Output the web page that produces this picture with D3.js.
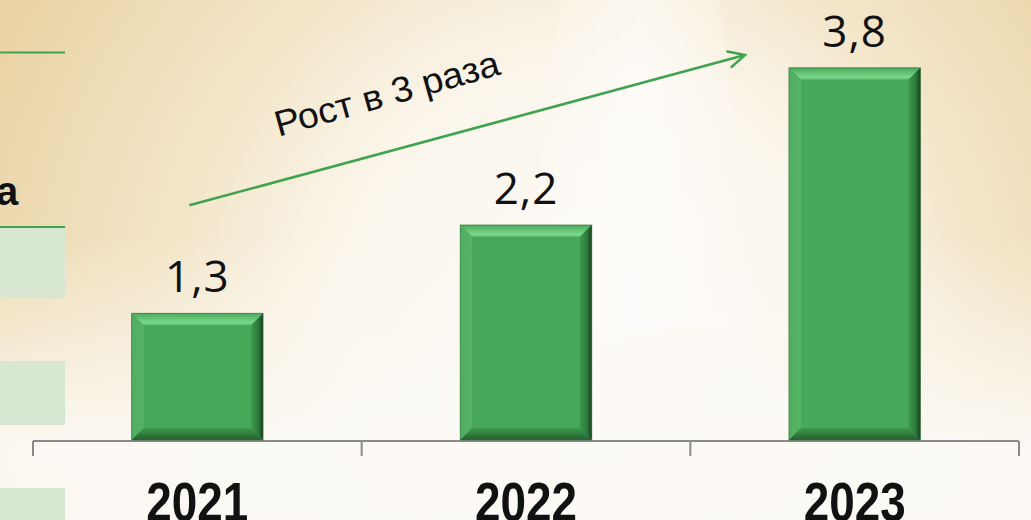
<!DOCTYPE html>
<html>
<head>
<meta charset="utf-8">
<script src="https://cdn.jsdelivr.net/npm/d3@7"></script>
<style>
  html, body { margin: 0; padding: 0; overflow: hidden; }
  body { width: 1031px; height: 520px; }
</style>
</head>
<body>
<div id="chart"></div>
<script>
//Data
const years = ['2021', '2022', '2023'];
const values = [1.3, 2.2, 3.8];
const valueLabels = ['1,3', '2,2', '3,8'];
const growthText = 'Рост в 3 раза';
// arrow anchors in data units (year, value)
const arrowFrom = ['2021', 2.4];
const arrowTo = ['2023', 3.93];

const W = 1031, H = 520;
const margin = { left: 33, right: 12, bottom: 79 };
const axisY = H - margin.bottom; // 441
const green = '#3fa34f';

const svg = d3.select('#chart').append('svg').attr('width', W).attr('height', H);
const defs = svg.append('defs');

//Background
const bg = defs.append('radialGradient').attr('id', 'bg')
  .attr('gradientUnits', 'userSpaceOnUse')
  .attr('cx', 560).attr('cy', 330).attr('r', 700)
  .attr('fx', 600).attr('fy', 300);
[[0, '#fdfbf7'], [0.35, '#fbf6ec'], [0.6, '#f2e4c6'], [1, '#e8cf9c']]
  .forEach(([o, c]) => bg.append('stop').attr('offset', o).attr('stop-color', c));
svg.append('rect').attr('width', W).attr('height', H).attr('fill', 'url(#bg)');

const fade = defs.append('linearGradient').attr('id', 'fade')
  .attr('x1', 0).attr('x2', 0).attr('y1', 0).attr('y2', 1);
fade.append('stop').attr('offset', 0.45).attr('stop-color', '#fcfaf5').attr('stop-opacity', 0);
fade.append('stop').attr('offset', 0.85).attr('stop-color', '#fcfaf6').attr('stop-opacity', 0.95);
svg.append('rect').attr('width', W).attr('height', H).attr('fill', 'url(#fade)');

// soft light ray from top
const ray = defs.append('linearGradient').attr('id', 'ray')
  .attr('x1', 0).attr('x2', 1).attr('y1', 0).attr('y2', 0);
ray.append('stop').attr('offset', 0).attr('stop-color', '#fff').attr('stop-opacity', 0);
ray.append('stop').attr('offset', 0.5).attr('stop-color', '#fff').attr('stop-opacity', 0.55);
ray.append('stop').attr('offset', 1).attr('stop-color', '#fff').attr('stop-opacity', 0);
svg.append('path').attr('d', 'M560,0 L720,0 L760,330 L520,330 Z').attr('fill', 'url(#ray)');

//Cropped neighbour elements on the left
const side = svg.append('g');
side.append('line').attr('x1', 0).attr('x2', 65).attr('y1', 52.5).attr('y2', 52.5)
  .attr('stroke', green).attr('stroke-width', 2);
side.append('text').attr('x', -4).attr('y', 205)
  .attr('font-family', '"Liberation Sans", Arial, sans-serif')
  .attr('font-weight', 700).attr('font-size', 40).attr('fill', '#111').text('а');
[[228, 298], [361, 425], [488, 520]].forEach(([a, b]) =>
  side.append('rect').attr('x', 0).attr('y', a).attr('width', 65).attr('height', b - a)
    .attr('fill', '#d8e7d2'));
side.append('line').attr('x1', 0).attr('x2', 65).attr('y1', 227).attr('y2', 227)
  .attr('stroke', green).attr('stroke-width', 2);

//Scales
const x = d3.scaleBand().domain(years)
  .range([margin.left, W - margin.right])
  .paddingInner(0.6).paddingOuter(0.3);
const y = d3.scaleLinear().domain([0, 4.5]).range([axisY, axisY - 4.5 * 98.2]);
const step = x.step();
const bw = x.bandwidth();

//Axis
const axis = svg.append('g');
const x0 = margin.left, x1 = margin.left + step * years.length;
axis.append('line').attr('x1', x0).attr('x2', x1).attr('y1', axisY).attr('y2', axisY)
  .attr('stroke', '#8a8a8a').attr('stroke-width', 2);
d3.range(years.length + 1).forEach(i => {
  const tx = x0 + i * step;
  axis.append('line').attr('x1', tx).attr('x2', tx).attr('y1', axisY).attr('y2', axisY + 15)
    .attr('stroke', '#8a8a8a').attr('stroke-width', 2);
});
axis.selectAll('text.year').data(years).join('text').attr('class', 'year')
  .attr('x', d => x(d) + bw / 2).attr('y', 521)
  .attr('text-anchor', 'middle')
  .attr('font-family', '"Liberation Sans Narrow", "Liberation Sans", Arial, sans-serif')
  .attr('font-weight', 700).attr('font-size', 56).attr('fill', '#111')
  .attr('textLength', 102).attr('lengthAdjust', 'spacingAndGlyphs')
  .text(d => d);

//Bevel gradients
const mkGrad = (id, vertical, stops) => {
  const g = defs.append('linearGradient').attr('id', id)
    .attr('x1', 0).attr('y1', 0).attr('x2', vertical ? 0 : 1).attr('y2', vertical ? 1 : 0);
  stops.forEach(([o, c]) => g.append('stop').attr('offset', o).attr('stop-color', c));
};
mkGrad('bvTop', true, [[0, '#4aa95a'], [0.55, '#6ccb7c'], [0.8, '#7ad889'], [1, '#5cba6c']]);
mkGrad('bvLeft', false, [[0, '#4fae60'], [1, '#55b365']]);
mkGrad('bvRight', false, [[0, '#3d9a4d'], [0.6, '#2c7a3a'], [1, '#173f1e']]);
mkGrad('bvBot', true, [[0, '#3e9a4d'], [1, '#255f30']]);

//Bars
const bev = 12;
const bars = svg.append('g').selectAll('g').data(years).join('g');
bars.each(function (d, i) {
  const g = d3.select(this);
  const l = x(d), r = x(d) + bw, t = y(values[i]), b = y(0) - 1;
  g.append('rect').attr('x', l).attr('y', t).attr('width', bw).attr('height', b - t)
    .attr('fill', '#48a85a');
  const poly = (pts, fill) => g.append('polygon')
    .attr('points', pts.map(p => p.join(',')).join(' ')).attr('fill', fill);
  poly([[l, t], [r, t], [r - bev, t + bev], [l + bev, t + bev]], 'url(#bvTop)');
  poly([[l, t], [l + bev, t + bev], [l + bev, b - bev], [l, b]], 'url(#bvLeft)');
  poly([[r, t], [r, b], [r - bev, b - bev], [r - bev, t + bev]], 'url(#bvRight)');
  poly([[l, b], [l + bev, b - bev], [r - bev, b - bev], [r, b]], 'url(#bvBot)');
  g.append('rect').attr('x', l).attr('y', t).attr('width', bw).attr('height', b - t)
    .attr('fill', 'none').attr('stroke', '#2f6e39').attr('stroke-width', 1).attr('stroke-opacity', 0.6);
});

//Value labels
svg.append('g').selectAll('text').data(years).join('text')
  .attr('x', d => x(d) + bw / 2)
  .attr('y', (d, i) => y(values[i]) - 21)
  .attr('text-anchor', 'middle')
  .attr('font-family', '"Open Sans", "Noto Sans", sans-serif')
  .attr('font-size', 44).attr('fill', '#111')
  .attr('letter-spacing', 1)
  .text((d, i) => valueLabels[i]);

//Growth arrow
const ax0 = x(arrowFrom[0]) + bw / 2 - 8, ay0 = y(arrowFrom[1]);
const ax1 = x(arrowTo[0]) - 44, ay1 = y(arrowTo[1]);
defs.append('marker').attr('id', 'head').attr('viewBox', '0 0 20 20')
  .attr('refX', 18).attr('refY', 10).attr('markerWidth', 20).attr('markerHeight', 20)
  .attr('markerUnits', 'userSpaceOnUse').attr('orient', 'auto')
  .append('path').attr('d', 'M2,2 L18,10 L2,18').attr('fill', 'none')
  .attr('stroke', green).attr('stroke-width', 2.5).attr('stroke-linecap', 'round');
svg.append('line').attr('x1', ax0).attr('y1', ay0).attr('x2', ax1).attr('y2', ay1)
  .attr('stroke', green).attr('stroke-width', 2.5).attr('marker-end', 'url(#head)');

const ang = Math.atan2(ay1 - ay0, ax1 - ax0) * 180 / Math.PI;
const tt = 0.383;
svg.append('text')
  .attr('transform', `translate(${ax0 + tt * (ax1 - ax0)},${ay0 + tt * (ay1 - ay0)}) rotate(${ang - 0.5})`)
  .attr('y', -44)
  .attr('text-anchor', 'middle')
  .attr('font-family', '"Liberation Sans", Arial, sans-serif')
  .attr('font-size', 36).attr('fill', '#111')
  .attr('textLength', 232).attr('lengthAdjust', 'spacingAndGlyphs')
  .text(growthText);
</script>
</body>
</html>
